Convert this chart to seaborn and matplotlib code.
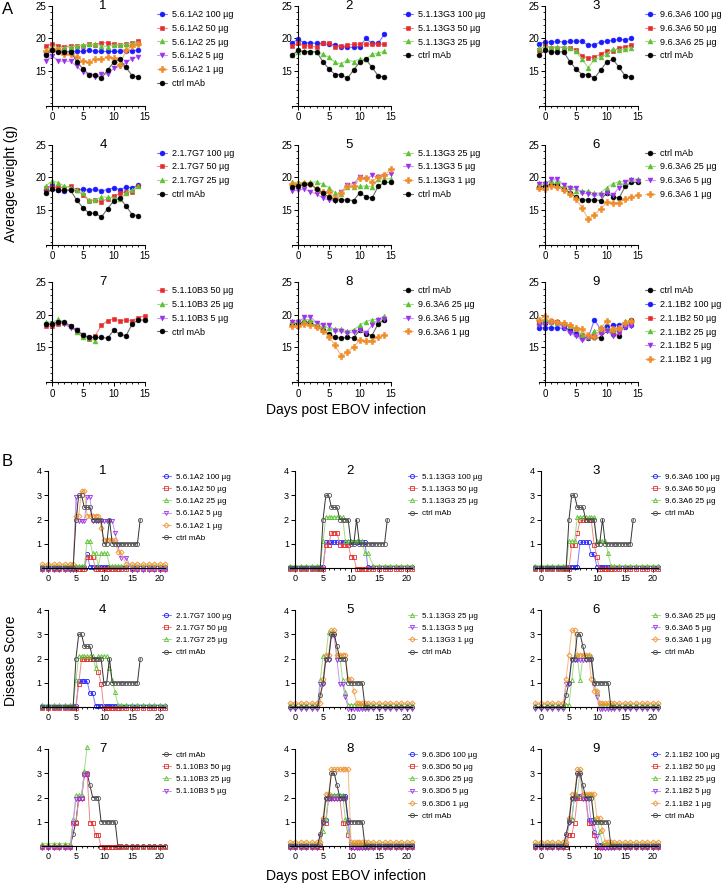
import matplotlib
matplotlib.use("Agg")
import matplotlib.pyplot as plt
from matplotlib.ticker import FixedLocator
import numpy as np
import seaborn as sns

sns.set_style("ticks")
plt.rcParams['font.family'] = ['Liberation Sans', 'DejaVu Sans']
plt.rcParams['axes.edgecolor'] = 'black'
plt.rcParams['xtick.color'] = 'black'
plt.rcParams['ytick.color'] = 'black'
plt.rcParams['text.color'] = 'black'
plt.rcParams['axes.linewidth'] = 0.8

W, H = 726, 885

# ---------------- Panel A: average weight (g) ----------------
DAYS_A14 = [-1, 0, 1, 2, 3, 4, 5, 6, 7, 8, 9, 10, 11, 12, 13, 14]
DAYS_A15 = [-1, 0, 1, 2, 3, 4, 5, 6, 7, 8, 9, 10, 11, 12, 13, 14, 15]

CTRL_A1 = [17.5, 18.15, 17.95, 17.95, 17.95, 16.45, 15.3, 14.45, 14.45, 13.85, 15.15, 16.35, 16.8, 15.55, 14.25, 14.05]
CTRL_A2 = [18.55, 18.6, 18.9, 18.9, 18.2, 17.6, 16.9, 16.5, 16.5, 16.5, 16.4, 17.6, 17.0, 16.75, 18.6, 19.2, 19.2]
CTRL_A3 = [18.55, 18.8, 18.85, 18.85, 18.2, 17.6, 17.0, 16.5, 16.45, 16.5, 16.45, 17.6, 17.1, 16.8, 18.65, 19.15]

A1_100 = [17.6, 18.3, 18.0, 18.0, 18.0, 18.0, 18.0, 18.2, 18.0, 18.0, 18.0, 18.0, 18.0, 18.1, 18.1, 18.2]
A1_50 = [18.8, 19.2, 18.85, 18.75, 18.85, 18.85, 18.9, 19.1, 19.0, 19.35, 19.35, 19.1, 19.0, 19.1, 19.25, 19.6]
A1_25 = [18.3, 18.75, 18.6, 18.6, 18.75, 18.85, 19.0, 19.1, 19.1, 18.9, 18.75, 19.0, 19.0, 19.1, 19.25, 19.35]
A1_5 = [16.5, 17.35, 16.5, 16.5, 16.5, 15.7, 14.8, 14.4, 14.1, 14.6, 14.5, 15.4, 15.7, 16.3, 16.9, 17.2]
A1_1 = [18.1, 18.4, 18.2, 17.55, 17.55, 17.2, 16.5, 16.3, 16.8, 16.85, 17.1, 16.95, 15.9, 18.2, 18.8, 19.2]

A2_100 = [19.35, 19.85, 19.35, 19.35, 19.25, 19.25, 19.15, 19.0, 18.75, 18.65, 18.65, 18.75, 20.0, 19.25, 19.25, 20.65]
A2_50 = [18.85, 19.25, 18.85, 18.85, 18.65, 19.25, 19.25, 18.75, 18.85, 19.0, 19.1, 19.1, 19.1, 19.1, 19.1, 19.1]
A2_25 = [17.45, 17.95, 18.05, 17.95, 17.95, 17.55, 17.1, 16.3, 16.1, 16.7, 16.45, 16.8, 16.8, 17.6, 17.7, 18.05]

A3_100 = [19.2, 19.45, 19.45, 19.55, 19.45, 19.55, 19.6, 19.55, 18.95, 19.05, 19.45, 19.6, 19.7, 19.85, 19.8, 20.0]
A3_50 = [18.3, 18.8, 18.6, 18.6, 18.6, 18.5, 18.3, 17.25, 17.05, 17.1, 17.6, 18.1, 18.1, 18.55, 18.7, 19.0]
A3_25 = [18.5, 18.7, 18.7, 18.7, 18.7, 18.5, 18.0, 16.8, 15.5, 16.8, 17.1, 17.6, 18.4, 18.2, 18.4, 18.6]

A4_100 = [18.1, 18.85, 18.1, 17.9, 18.15, 17.95, 18.2, 17.95, 18.15, 17.9, 18.1, 18.35, 18.1, 18.45, 18.4, 18.75]
A4_50 = [18.35, 18.5, 18.45, 18.4, 18.6, 17.95, 17.3, 16.3, 16.45, 16.2, 16.7, 17.05, 17.5, 17.75, 17.75, 18.7]
A4_25 = [18.7, 19.4, 19.15, 18.65, 18.35, 18.0, 17.5, 16.5, 16.5, 16.95, 16.9, 16.8, 16.6, 17.6, 18.0, 18.6]

A5_25 = [19.2, 19.2, 19.2, 19.2, 19.3, 18.9, 18.4, 17.6, 17.4, 18.5, 18.5, 18.6, 18.65, 18.5, 19.65, 19.75, 19.75]
A5_5 = [17.9, 17.95, 18.2, 17.75, 17.4, 16.8, 16.45, 16.35, 17.7, 18.85, 19.0, 20.05, 19.65, 20.3, 19.95, 20.2, 20.5]
A5_1 = [18.9, 19.0, 19.0, 19.0, 18.25, 17.75, 17.65, 16.8, 17.5, 18.6, 18.6, 19.8, 19.8, 19.3, 20.05, 20.3, 21.2]

A6_25 = [19.1, 19.25, 19.4, 19.4, 18.8, 18.45, 17.9, 17.9, 17.8, 17.5, 17.6, 18.4, 19.0, 19.3, 19.3, 19.75, 19.65]
A6_5 = [18.9, 18.9, 19.65, 19.75, 18.75, 18.4, 18.4, 17.5, 17.45, 17.2, 17.3, 17.6, 17.25, 18.4, 19.3, 19.5, 19.4]
A6_1 = [18.3, 18.2, 18.6, 18.5, 18.0, 17.4, 16.6, 15.3, 13.5, 14.25, 15.1, 16.1, 16.05, 16.05, 16.7, 16.9, 17.3]

A7_50 = [18.3, 18.2, 18.6, 18.7, 18.2, 17.5, 16.9, 16.3, 16.8, 18.35, 19.1, 19.35, 19.1, 19.2, 19.1, 19.55, 19.8]
A7_25 = [18.95, 18.8, 19.3, 18.85, 18.2, 17.4, 16.5, 16.4, 16.0]
A7_5 = [18.5, 18.5, 18.75, 18.55, 17.95, 17.6, 16.9, 16.35]

A8_25 = [19.0, 19.2, 19.25, 19.25, 18.7, 18.4, 17.9, 17.85, 17.8, 17.5, 17.65, 18.4, 18.95, 19.25, 19.3, 19.8]
A8_5 = [18.85, 18.9, 19.6, 19.7, 18.75, 18.45, 18.4, 17.5, 17.45, 17.2, 17.35, 17.6, 17.2, 18.4, 19.25, 19.4]
A8_1 = [18.3, 18.25, 18.6, 18.45, 18.05, 17.5, 16.65, 15.3, 13.6, 14.25, 15.1, 16.05, 16.0, 16.0, 16.65, 16.9]

A9_100 = [18.0, 18.0, 18.0, 18.0, 17.9, 17.5, 17.0, 16.4, 16.5, 19.2, 17.8, 18.3, 18.35, 18.5, 18.1, 18.5]
A9_50 = [18.9, 19.1, 19.0, 18.9, 18.6, 18.3, 17.8, 16.9, 16.6, 16.9, 17.4, 17.7, 17.4, 17.4, 18.6, 19.0]
A9_25 = [18.8, 19.3, 18.9, 18.8, 18.75, 18.3, 17.9, 16.9, 16.5, 17.5, 17.7, 17.8, 17.7, 17.8, 19.0, 19.2]
A9_5 = [18.5, 18.6, 18.8, 18.7, 18.0, 17.2, 16.7, 16.1, 16.4, 16.6, 17.1, 17.5, 16.8, 17.2, 18.1, 18.3]
A9_1 = [19.2, 19.8, 19.1, 18.9, 18.7, 18.4, 17.9, 17.8, 16.9, 16.6, 17.9, 19.0, 17.8, 17.9, 18.8, 19.1]

# ---------------- Panel B: disease score ----------------
XB = [-1, 0, 1, 2, 3, 4, 4.5, 5, 5.5, 6, 6.5, 7, 7.5, 8, 8.5, 9, 9.5, 10, 10.5,
      11, 11.5, 12, 12.5, 13, 14, 15, 16, 17, 18, 19, 20, 21]
XB_CTRL = [-1, 0, 1, 2, 3, 4, 4.5, 5, 5.5, 6, 6.5, 7, 7.5, 8, 8.5, 9, 9.5, 10, 10.5,
           11, 11.5, 12, 12.5, 13, 13.5, 14, 14.5, 15, 15.5, 16, 16.5]

CTRL_B1 = [0, 0, 0, 0, 0, 0,
           0, 2, 3, 3, 2.5, 2.5, 2.5, 2, 2, 2, 2, 1, 1, 2, 1, 1, 1, 1, 1, 1, 1, 1, 1, 1, 2]
CTRL_B2 = [0, 0, 0, 0, 0, 0,
           0.5, 1, 2, 2, 3, 3, 2.5, 2, 2, 2, 1, 1, 1, 1, 1, 1, 0, 0,
           0, 0, 0, 0, 0, 0, 0, 0]

B1_100 = [0, 0, 0, 0, 0, 0,
          0, 0, 0, 0, 0, 0.5, 0, 0, 0, 0, 0, 0, 0, 0, 0, 0, 0, 0,
          0, 0, 0, 0, 0, 0, 0, 0]
B1_50 = [0, 0, 0, 0, 0, 0,
         0, 0, 0, 0, 0, 0.5, 0.5, 0.5, 0, 0, 0, 0, 0, 0, 0, 0, 0, 0,
         0, 0, 0, 0, 0, 0, 0, 0]
B1_25 = [0, 0, 0, 0, 0, 0,
         0, 0, 0, 0, 0, 1, 1, 0.5, 0.5, 0, 0.5, 0.5, 0.5, 0, 0, 0, 0, 0,
         0, 0, 0, 0, 0, 0, 0, 0]
B1_5 = [0, 0, 0, 0, 0, 0,
        0, 3, 2, 2, 2, 3, 3, 2, 2, 2, 2, 2, 2, 2, 2, 1.5, 1, 0.5,
        0.5, 0, 0, 0, 0, 0, 0, 0]
B1_1 = [0, 0, 0, 0, 0, 0,
        0, 2, 2, 3, 3, 2, 2, 2, 2, 2, 1.5, 1, 1, 1, 1, 1, 0.5, 0.5,
        0, 0, 0, 0, 0, 0, 0, 0]

B2_100 = [0, 0, 0, 0, 0, 0,
          0, 0, 1, 1, 1, 1, 1, 1, 1, 1, 1, 1, 1, 1, 1, 1, 1, 0,
          0, 0, 0, 0, 0, 0, 0, 0]
B2_50 = [0, 0, 0, 0, 0, 0,
         0, 0, 1, 1, 1.5, 1.5, 1.5, 1, 1, 1, 1, 0.5, 0.5, 0, 0, 0, 0, 0,
         0, 0, 0, 0, 0, 0, 0, 0]
B2_25 = [0, 0, 0, 0, 0, 0,
         0, 1, 2, 2, 2, 2, 2, 2, 2, 1, 1, 1, 1, 1, 1, 1, 0.5, 0.5,
         0, 0, 0, 0, 0, 0, 0, 0]

B3_100 = [0, 0, 0, 0, 0, 0,
          0, 0, 0, 0, 0, 1, 1, 1, 1, 0.5, 0.5, 0, 0, 0, 0, 0, 0, 0,
          0, 0, 0, 0, 0, 0, 0, 0]
B3_50 = [0, 0, 0, 0, 0, 0,
         0, 0, 1, 1, 1.5, 2, 2, 2, 2, 2, 1, 0.5, 0, 0, 0, 0, 0, 0,
         0, 0, 0, 0, 0, 0, 0, 0]
B3_25 = [0, 0, 0, 0, 0, 0,
         0, 1, 1, 1, 2, 2, 2, 2, 2, 2, 2, 1, 1, 1, 1, 0.5, 0, 0,
         0, 0, 0, 0, 0, 0, 0, 0]

B4_100 = [0, 0, 0, 0, 0, 0,
          0, 0, 1, 1, 1, 1, 0.5, 0.5, 0, 0, 0, 0, 0, 0, 0, 0, 0, 0,
          0, 0, 0, 0, 0, 0, 0, 0]
B4_50 = [0, 0, 0, 0, 0, 0,
         0, 0, 1, 2, 2, 2, 2, 2, 2, 1.5, 1, 0, 0, 0, 0, 0, 0, 0,
         0, 0, 0, 0, 0, 0, 0, 0]
B4_25 = [0, 0, 0, 0, 0, 0,
         0, 1, 2, 2, 2, 2, 2, 2, 1.5, 2, 2, 2, 2, 1.5, 1, 0.5, 0, 0,
         0, 0, 0, 0, 0, 0, 0, 0]

B5_25 = [0, 0, 0, 0, 0, 0,
         1, 2, 2, 3, 3, 3, 2, 2, 1, 0.5, 0, 0, 0, 0, 0, 0, 0, 0,
         0, 0, 0, 0, 0, 0, 0, 0]
B5_5 = [0, 0, 0, 0, 0, 0,
        1, 1, 2, 2, 3, 3, 2, 1, 1, 0.5, 0, 0, 0, 0, 0, 0, 0, 0,
        0, 0, 0, 0, 0, 0, 0, 0]
B5_1 = [0, 0, 0, 0, 0, 0,
        0, 1, 2, 2, 3, 3, 2, 2, 2, 2, 1, 1, 0.5, 0, 0, 0, 0, 0,
        0, 0, 0, 0, 0, 0, 0, 0]

B6_25 = [0, 0, 0, 0, 0, 0,
         0, 0, 1, 2, 2, 1, 2, 2, 2, 2, 1, 0.5, 0, 0, 0, 0, 0, 0,
         0, 0, 0, 0, 0, 0, 0, 0]
B6_5 = [0, 0, 0, 0, 0, 0,
        1, 1, 2, 2, 2, 2, 2, 2, 2, 2, 1, 0.5, 0, 0, 0, 0, 0, 0,
        0, 0, 0, 0, 0, 0, 0, 0]
B6_1 = [0, 0, 0, 0, 0, 0,
        1, 2, 3, 3, 2, 2, 2, 2, 2, 1, 0.5, 0.5, 0, 0, 0, 0, 0, 0,
        0, 0, 0, 0, 0, 0, 0, 0]

B7_50 = [0, 0, 0, 0, 0, 0,
         1, 1, 2, 2, 3, 3, 1, 1, 0.5, 0.5, 0, 0, 0, 0, 0, 0, 0, 0,
         0, 0, 0, 0, 0, 0, 0, 0]
B7_25 = [0, 0, 0, 0, 0, 0, 1, 2, 2, 2, 3, 4]
B7_5 = [0, 0, 0, 0, 0, 0, 1, 2, 2, 2, 3, 3]

B8_100 = [0, 0, 0, 0, 0, 0,
          0, 1, 1, 2, 2, 2, 2, 2, 2, 2, 1, 0, 0, 0, 0, 0, 0, 0,
          0, 0, 0, 0, 0, 0, 0, 0]
B8_50 = [0, 0, 0, 0, 0, 0,
         0, 1, 1, 2, 2, 2, 2, 2, 1, 1, 0.5, 0, 0, 0, 0, 0, 0, 0,
         0, 0, 0, 0, 0, 0, 0, 0]
B8_25 = [0, 0, 0, 0, 0, 0,
         0, 0.5, 1, 2, 2, 2, 2, 2, 2, 1, 0.5, 0, 0, 0, 0, 0, 0, 0,
         0, 0, 0, 0, 0, 0, 0, 0]
B8_5 = [0, 0, 0, 0, 0, 0,
        0.5, 1, 2, 2, 2, 2, 2, 2, 2, 2, 1, 0, 0, 0, 0, 0, 0, 0,
        0, 0, 0, 0, 0, 0, 0, 0]
B8_1 = [0, 0, 0, 0, 0, 0,
        0, 1, 2, 2, 3, 3, 3, 3, 3, 3, 3, 0, 0, 0, 0, 0, 0, 0,
        0, 0, 0, 0, 0, 0, 0, 0]

B9_100 = [0, 0, 0, 0, 0, 0,
          0, 1, 1, 2, 2, 2, 2, 2, 1, 1, 0.5, 0, 0, 0, 0, 0, 0, 0,
          0, 0, 0, 0, 0, 0, 0, 0]
B9_50 = [0, 0, 0, 0, 0, 0,
         0, 0.5, 0.5, 1, 2, 2, 2, 2, 1, 1, 0.5, 0, 0, 0, 0, 0, 0, 0,
         0, 0, 0, 0, 0, 0, 0, 0]
B9_25 = [0, 0, 0, 0, 0, 0,
         0, 1, 1, 2, 2, 3, 2, 2, 2, 2, 1, 1, 0.5, 0, 0, 0, 0, 0,
         0, 0, 0, 0, 0, 0, 0, 0]
B9_5 = [0, 0, 0, 0, 0, 0,
        0.5, 1, 2, 2, 3, 3, 2, 2, 2, 1, 1, 0.5, 0, 0, 0, 0, 0, 0,
        0, 0, 0, 0, 0, 0, 0, 0]
B9_1 = [0, 0, 0, 0, 0, 0,
        0, 1, 2, 2, 3, 3, 2, 2, 2, 2, 2, 1, 1, 0.5, 0, 0, 0, 0,
        0, 0, 0, 0, 0, 0, 0, 0]

# ---------------- panel tables ----------------
PANELS_A = [
    ("1", DAYS_A14, [("5.6.1A2 100 µg", "100", A1_100), ("5.6.1A2 50 µg", "50", A1_50),
                     ("5.6.1A2 25 µg", "25", A1_25), ("5.6.1A2 5 µg", "5", A1_5),
                     ("5.6.1A2 1 µg", "1", A1_1), ("ctrl mAb", "ctrl", CTRL_A1)]),
    ("2", DAYS_A14, [("5.1.13G3 100 µg", "100", A2_100), ("5.1.13G3 50 µg", "50", A2_50),
                     ("5.1.13G3 25 µg", "25", A2_25), ("ctrl mAb", "ctrl", CTRL_A1)]),
    ("3", DAYS_A14, [("9.6.3A6 100 µg", "100", A3_100), ("9.6.3A6 50 µg", "50", A3_50),
                     ("9.6.3A6 25 µg", "25", A3_25), ("ctrl mAb", "ctrl", CTRL_A1)]),
    ("4", DAYS_A14, [("2.1.7G7 100 µg", "100", A4_100), ("2.1.7G7 50 µg", "50", A4_50),
                     ("2.1.7G7 25 µg", "25", A4_25), ("ctrl mAb", "ctrl", CTRL_A1)]),
    ("5", DAYS_A15, [("5.1.13G3 25 µg", "25", A5_25), ("5.1.13G3 5 µg", "5", A5_5),
                     ("5.1.13G3 1 µg", "1", A5_1), ("ctrl mAb", "ctrl", CTRL_A2)]),
    ("6", DAYS_A15, [("ctrl mAb", "ctrl", CTRL_A2), ("9.6.3A6 25 µg", "25", A6_25),
                     ("9.6.3A6 5 µg", "5", A6_5), ("9.6.3A6 1 µg", "1", A6_1)]),
    ("7", DAYS_A15, [("5.1.10B3 50 µg", "50", A7_50), ("5.1.10B3 25 µg", "25", A7_25),
                     ("5.1.10B3 5 µg", "5", A7_5), ("ctrl mAb", "ctrl", CTRL_A2)]),
    ("8", DAYS_A14, [("ctrl mAb", "ctrl", CTRL_A3), ("9.6.3A6 25 µg", "25", A8_25),
                     ("9.6.3A6 5 µg", "5", A8_5), ("9.6.3A6 1 µg", "1", A8_1)]),
    ("9", DAYS_A14, [("ctrl mAb", "ctrl", CTRL_A3), ("2.1.1B2 100 µg", "100", A9_100),
                     ("2.1.1B2 50 µg", "50", A9_50), ("2.1.1B2 25 µg", "25", A9_25),
                     ("2.1.1B2 5 µg", "5", A9_5), ("2.1.1B2 1 µg", "1", A9_1)]),
]

PANELS_B = [
    ("1", [("5.6.1A2 100 µg", "100", XB, B1_100), ("5.6.1A2 50 µg", "50", XB, B1_50),
           ("5.6.1A2 25 µg", "25", XB, B1_25), ("5.6.1A2 5 µg", "5", XB, B1_5),
           ("5.6.1A2 1 µg", "1", XB, B1_1), ("ctrl mAb", "ctrl", XB_CTRL, CTRL_B1)]),
    ("2", [("5.1.13G3 100 µg", "100", XB, B2_100), ("5.1.13G3 50 µg", "50", XB, B2_50),
           ("5.1.13G3 25 µg", "25", XB, B2_25), ("ctrl mAb", "ctrl", XB_CTRL, CTRL_B1)]),
    ("3", [("9.6.3A6 100 µg", "100", XB, B3_100), ("9.6.3A6 50 µg", "50", XB, B3_50),
           ("9.6.3A6 25 µg", "25", XB, B3_25), ("ctrl mAb", "ctrl", XB_CTRL, CTRL_B1)]),
    ("4", [("2.1.7G7 100 µg", "100", XB, B4_100), ("2.1.7G7 50 µg", "50", XB, B4_50),
           ("2.1.7G7 25 µg", "25", XB, B4_25), ("ctrl mAb", "ctrl", XB_CTRL, CTRL_B1)]),
    ("5", [("5.1.13G3 25 µg", "25", XB, B5_25), ("5.1.13G3 5 µg", "5", XB, B5_5),
           ("5.1.13G3 1 µg", "1", XB, B5_1), ("ctrl mAb", "ctrl", XB, CTRL_B2)]),
    ("6", [("9.6.3A6 25 µg", "25", XB, B6_25), ("9.6.3A6 5 µg", "5", XB, B6_5),
           ("9.6.3A6 1 µg", "1", XB, B6_1), ("ctrl mAb", "ctrl", XB, CTRL_B2)]),
    ("7", [("ctrl mAb", "ctrl", XB, CTRL_B2), ("5.1.10B3 50 µg", "50", XB, B7_50),
           ("5.1.10B3 25 µg", "25", XB, B7_25), ("5.1.10B3 5 µg", "5", XB, B7_5)]),
    ("8", [("9.6.3D6 100 µg", "100", XB, B8_100), ("9.6.3D6 50 µg", "50", XB, B8_50),
           ("9.6.3D6 25 µg", "25", XB, B8_25), ("9.6.3D6 5 µg", "5", XB, B8_5),
           ("9.6.3D6 1 µg", "1", XB, B8_1), ("ctrl mAb", "ctrl", XB, CTRL_B2)]),
    ("9", [("2.1.1B2 100 µg", "100", XB, B9_100), ("2.1.1B2 50 µg", "50", XB, B9_50),
           ("2.1.1B2 25 µg", "25", XB, B9_25), ("2.1.1B2 5 µg", "5", XB, B9_5),
           ("2.1.1B2 1 µg", "1", XB, B9_1), ("ctrl mAb", "ctrl", XB, CTRL_B2)]),
]

# ---------------- styles ----------------
MARKER_COL = {"100": "#1a1aff", "50": "#e52b2b", "25": "#5cc232", "5": "#9b30f0",
              "1": "#f08c28", "ctrl": "#000000"}
LINE_COL = {"100": "#7a7aff", "50": "#f08888", "25": "#a0dc84", "5": "#c795f5",
            "1": "#f6b87c", "ctrl": "#6e6e6e"}
MARKER_COL_B = dict(MARKER_COL, ctrl="#555555")
LINE_COL_B = dict(LINE_COL, ctrl="#333333")
MARK_A = {"100": "o", "50": "s", "25": "^", "5": "v", "1": "P", "ctrl": "o"}
MARK_B = {"100": "o", "50": "s", "25": "^", "5": "v", "1": "D", "ctrl": "o"}
# small vertical nudge per group so overlapping symbols stay visible (as in the original)
NUDGE_B = {"100": 0.06, "50": -0.04, "25": 0.1, "5": -0.07, "1": 0.16, "ctrl": 0.0}

A_LEFT = [46, 292, 539]
A_TOP = [6, 144.7, 282.3]
A_LEG_X = [157, 403, 645]
B_LEFT = [42.4, 289.5, 535.4]
B_TOP = [471, 610, 749]
B_LEG_X = [162, 408, 651]

fig = plt.figure(figsize=(W / 100, H / 100), dpi=100)


def px_axes(left, top, width, height):
    return fig.add_axes([left / W, 1 - (top + height) / H, width / W, height / H])


def style_axes(ax):
    ax.spines['top'].set_visible(False)
    ax.spines['right'].set_visible(False)
    ax.spines['left'].set_position(('data', 0))
    ax.tick_params(which='major', length=3, width=0.7, pad=1.5, direction='out')
    ax.tick_params(which='minor', length=1.6, width=0.6, direction='out')


def add_legend(ax, x, y, size, spacing):
    leg = ax.legend(loc="upper left", bbox_to_anchor=(x / W, 1 - y / H),
                    bbox_transform=fig.transFigure, frameon=False, fontsize=size,
                    handlelength=1.1, handletextpad=0.6, labelspacing=spacing,
                    borderpad=0, borderaxespad=0)
    return leg


# ---------------- draw panel A ----------------
for i, (title, days, series) in enumerate(PANELS_A):
    r, c = divmod(i, 3)
    ax = px_axes(A_LEFT[c], A_TOP[r], 98.5, 100)
    for label, key, vals in series:
        sns.lineplot(x=days[:len(vals)], y=vals, ax=ax, color=LINE_COL[key],
                     linewidth=0.8, marker=MARK_A[key],
                     markersize=4.0 if key == "1" else 3.5,
                     markerfacecolor=MARKER_COL[key], markeredgecolor=MARKER_COL[key],
                     markeredgewidth=0.4, label=label, clip_on=False, errorbar=None)
    ax.set_xlim(-1, 15)
    ax.set_ylim(9.6, 25)
    style_axes(ax)
    ax.xaxis.set_major_locator(FixedLocator([0, 5, 10, 15]))
    ax.xaxis.set_minor_locator(FixedLocator(range(-1, 16)))
    ax.yaxis.set_major_locator(FixedLocator([15, 20, 25]))
    ax.yaxis.set_minor_locator(FixedLocator(range(10, 25)))
    ax.tick_params(labelsize=7)
    ax.set_xlabel("")
    ax.set_ylabel("")
    ax.text(0.58, 1.0, title, transform=ax.transAxes, ha="center", va="center", fontsize=9.5)
    add_legend(ax, A_LEG_X[c], A_TOP[r] + 4.0, 6.5, 0.53)

# ---------------- draw panel B ----------------
for i, (title, series) in enumerate(PANELS_B):
    r, c = divmod(i, 3)
    ax = px_axes(B_LEFT[c], B_TOP[r], 123, 97)
    for label, key, xs, vals in series:
        yv = np.array(vals, dtype=float) + NUDGE_B[key]
        sns.lineplot(x=xs[:len(vals)], y=yv, ax=ax, color=LINE_COL_B[key],
                     linewidth=0.7, marker=MARK_B[key],
                     markersize=2.6 if key == "1" else 3.0,
                     markerfacecolor="none", markeredgecolor=MARKER_COL_B[key],
                     markeredgewidth=0.6, label=label, clip_on=False, errorbar=None)
    ax.set_xlim(-1, 21)
    ax.set_ylim(0, 4)
    style_axes(ax)
    ax.xaxis.set_major_locator(FixedLocator([0, 5, 10, 15, 20]))
    ax.xaxis.set_minor_locator(FixedLocator(range(-1, 22)))
    ax.yaxis.set_major_locator(FixedLocator([1, 2, 3, 4]))
    ax.tick_params(labelsize=6.5)
    ax.set_xlabel("")
    ax.set_ylabel("")
    ax.text(0.49, 1.0, title, transform=ax.transAxes, ha="center", va="center", fontsize=9.5)
    add_legend(ax, B_LEG_X[c], B_TOP[r] + 2.0, 5.8, 0.57)

# ---------------- figure labels ----------------
fig.text(7.5 / W, 1 - 10 / H, "A", fontsize=12, ha="center", va="center")
fig.text(7.5 / W, 1 - 461 / H, "B", fontsize=12, ha="center", va="center")
fig.text(11 / W, 1 - 184 / H, "Average weight (g)", fontsize=10, rotation=90,
         ha="center", va="center")
fig.text(346 / W, 1 - 410 / H, "Days post EBOV infection", fontsize=10,
         ha="center", va="center")
fig.text(11 / W, 1 - 661 / H, "Disease Score", fontsize=10, rotation=90,
         ha="center", va="center")
fig.text(346 / W, 1 - 876 / H, "Days post EBOV infection", fontsize=10,
         ha="center", va="center")

fig.savefig("out.png", dpi=100)
